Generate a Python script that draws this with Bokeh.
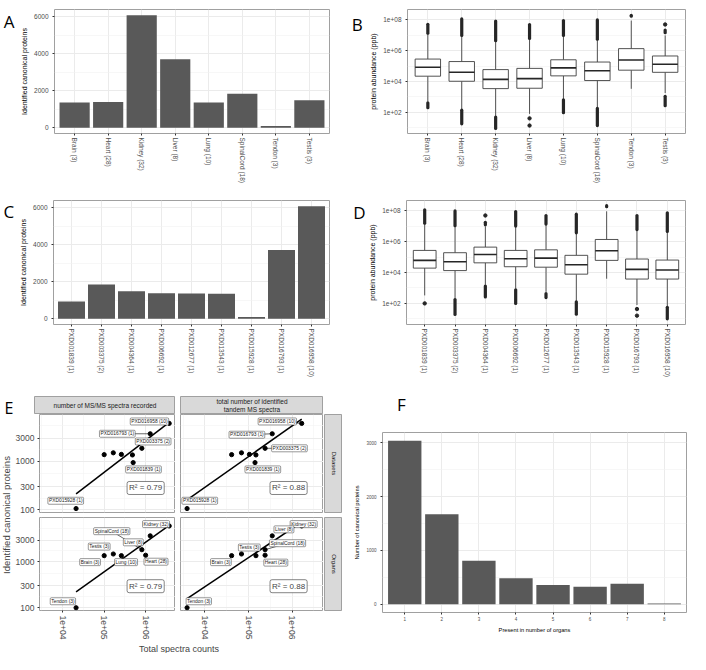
import math
import numpy as np
from bokeh.plotting import figure
from bokeh.models import Range1d, FixedTicker, Label
from bokeh.layouts import row, column
from bokeh.embed import file_html
from bokeh.resources import INLINE
from bokeh.core.properties import value

# ---------------- data ----------------
organs = ["Brain (3)", "Heart (28)", "Kidney (32)", "Liver (8)", "Lung (10)",
          "SpinalCord (18)", "Tendon (3)", "Testis (3)"]
organ_proteins = [1370, 1400, 6100, 3710, 1370, 1850, 100, 1490]

datasets = ["PXD001839 (1)", "PXD003375 (2)", "PXD004364 (1)", "PXD006692 (1)",
            "PXD012677 (1)", "PXD013543 (1)", "PXD015928 (1)", "PXD016793 (1)",
            "PXD016958 (10)"]
dataset_proteins = [940, 1860, 1500, 1390, 1375, 1355, 105, 3720, 6100]

# panel B: protein abundance (ppb) per organ
organ_q1 = [2.24e4, 1.05e4, 3.5e3, 3.7e3, 2.35e4, 1.17e4, 5.5e4, 4.0e4]
organ_median = [8.5e4, 4.0e4, 1.4e4, 1.55e4, 7.8e4, 5.0e4, 2.5e5, 1.35e5]
organ_q3 = [2.9e5, 2.0e5, 6.0e4, 7.2e4, 2.6e5, 1.86e5, 1.38e6, 4.6e5]
organ_whisk_lo = [500, 160, 56, 80, 710, 200, 3.4e3, 1.8e3]
organ_whisk_hi = [1.26e7, 8.9e6, 4.2e6, 5.6e6, 9.5e6, 5.4e6, 9.1e7, 1.0e7]
organ_out_hi = [(1.4e7, 5.2e7), (1.0e7, 1.17e8), (4.5e6, 8.5e7), (6.3e6, 5.0e7),
                (1.0e7, 9.1e7), (5.6e6, 1.0e8), (1.75e8, 2.0e8), (1.5e7, 2.2e7)]
organ_out_lo = [(200, 420), (18, 140), (9, 50), None, (95, 660), (14, 180), None, (270, 1100)]
organ_out_pts = [[], [], [], [41, 14], [], [], [], [5.1e7]]

# panel D: protein abundance (ppb) per dataset
ds_q1 = [1.95e4, 1.35e4, 4.3e4, 2.4e4, 2.24e4, 7.9e3, 6.2e4, 3.8e3, 3.8e3]
ds_median = [6.2e4, 5.1e4, 1.48e5, 7.9e4, 8.7e4, 3.2e4, 2.6e5, 1.62e4, 1.48e4]
ds_q3 = [2.75e5, 1.95e5, 4.5e5, 2.75e5, 3.0e5, 1.32e5, 1.41e6, 7.6e4, 6.5e4]
ds_whisk_lo = [330, 200, 1600, 890, 560, 141, 4000, 79, 60]
ds_whisk_hi = [1.6e7, 1.0e7, 1.0e7, 1.0e7, 1.26e7, 3.55e6, 9.5e7, 5.6e6, 4.5e6]
ds_out_hi = [(1.62e7, 1.2e8), (1.1e7, 1.0e8), (1.26e7, 1.86e7), (1.05e7, 9.1e7),
             (1.41e7, 5.1e7), (3.8e6, 6.2e7), (1.9e8, 2.2e8), (6.2e6, 5.1e7), (4.7e6, 7.6e7)]
ds_out_lo = [None, (19, 178), (263, 1350), (100, 760), (240, 430), (20, 126), None, None, (10, 56)]
ds_out_pts = [[100], [], [5.1e7], [], [], [], [], [43, 16], []]

# panel E: spectra counts
ds_spectra_recorded = [5.0e5, 8.1e5, 1.66e5, 2.6e5, 1.0e5, 4.8e5, 2.1e4, 1.29e6, 3.7e6]
ds_spectra_identified = [1.41e5, 2.4e5, 6.9e4, 1.05e5, 4.1e4, 1.48e5, 3.9e3, 3.5e5, 1.66e6]
organ_spectra_recorded = [1.0e5, 1.0e6, 3.7e6, 1.29e6, 2.6e5, 8.1e5, 2.1e4, 1.66e5]
organ_spectra_identified = [4.1e4, 2.4e5, 1.66e6, 3.5e5, 1.48e5, 2.4e5, 3.9e3, 6.9e4]
facet_cols = ["number of MS/MS spectra recorded", "total number of identified\ntandem MS spectra"]
facet_rows = ["Datasets", "Organs"]
r2_values = [["0.79", "0.88"], ["0.79", "0.88"]]
e_yticks = [100, 300, 1000, 3000]
e_xticks = [1e4, 1e5, 1e6]

# panel F
organs_present = [1, 2, 3, 4, 5, 6, 7, 8]
f_proteins = [3040, 1675, 810, 485, 360, 325, 380, 15]

# ---------------- layout / style ----------------
S = 0.975
def s(v):
    return int(round(v * S))

FONT = "Liberation Sans"
LFONT = "Open Sans"
FRAME = "#a0a0a0"
BAR = "#595959"
BOX = "#404040"
TICKC = "#4d4d4d"

W_L = s(350)
W_R = s(706) - W_L
H1, H2, H3 = s(195), s(200), s(275)


def mkfig(w, h, lb, rb, tb, bb, xr, yr, xt="linear", yt="linear"):
    p = figure(width=w, height=h, x_range=xr, y_range=yr, x_axis_type=xt, y_axis_type=yt,
               output_backend="svg", toolbar_location=None,
               min_border=0, min_border_left=lb, min_border_right=rb,
               min_border_top=tb, min_border_bottom=bb)
    p.outline_line_color = FRAME
    p.outline_line_width = 1
    p.background_fill_color = "white"
    p.border_fill_color = "white"
    for ax in p.axis:
        ax.axis_line_color = None
        ax.major_tick_line_color = "#333333"
        ax.major_tick_out = 2
        ax.major_tick_in = 0
        ax.minor_tick_line_color = None
        ax.major_label_text_color = TICKC
        ax.major_label_text_font = FONT
        ax.axis_label_text_font = FONT
        ax.axis_label_text_font_style = "normal"
        ax.axis_label_text_color = "black"
        ax.major_label_standoff = 2
        ax.axis_label_standoff = 3
    p.grid.grid_line_color = "#ebebeb"
    p.grid.grid_line_width = 1
    p.grid.minor_grid_line_color = "#f2f2f2"
    p.grid.minor_grid_line_width = 0.6
    return p


def blank(w, h):
    p = figure(width=w, height=h, x_range=Range1d(0, w), y_range=Range1d(0, h),
               output_backend="svg", toolbar_location=None,
               x_axis_location=None, y_axis_location=None, min_border=0)
    p.outline_line_color = None
    p.grid.visible = False
    p.background_fill_color = "white"
    p.border_fill_color = "white"
    return p


def letter_fig(w, h, txt, x_ref, base_ref, size="17px"):
    p = blank(w, h)
    p.add_layout(Label(x=x_ref * S, y=h - base_ref * S, text=txt,
                       text_font=LFONT, text_font_size=size,
                       text_align="left", text_baseline="alphabetic", text_color="black"))
    return p


def bar_panel(w, h, lb, rb, tb, fh, labels, vals, yr, yticks, yminor, lab_size,
              tick_size, title_size, ytitle, xtitle=None, vertical=True):
    bb = h - tb - fh
    n = len(vals)
    xs = list(range(1, n + 1))
    p = mkfig(w, h, lb, rb, tb, bb, Range1d(0.4, n + 0.6), Range1d(*yr))
    p.vbar(x=xs, top=vals, bottom=0, width=0.9, fill_color=BAR, line_color=None)
    p.xaxis.ticker = FixedTicker(ticks=xs)
    p.xgrid.ticker = FixedTicker(ticks=xs)
    p.xaxis.major_label_overrides = {x: str(l) for x, l in zip(xs, labels)}
    if vertical:
        p.xaxis.major_label_orientation = "vertical"
    p.xaxis.major_label_text_font_size = lab_size
    yt = FixedTicker(ticks=yticks, minor_ticks=yminor)
    p.yaxis.ticker = yt
    p.ygrid.ticker = yt
    p.yaxis.major_label_text_font_size = tick_size
    p.yaxis.axis_label = ytitle
    p.yaxis.axis_label_text_font_size = title_size
    if xtitle:
        p.xaxis.axis_label = xtitle
        p.xaxis.axis_label_text_font_size = title_size
    return p


LOG_LABELS = {1e2: "1e+02", 1e4: "1e+04", 1e6: "1e+06", 1e8: "1e+08"}
BOX_Y = (10 ** 0.63, 10 ** 8.68)


def box_panel(w, h, lb, rb, tb, fh, labels, q1, med, q3, wlo, whi, out_hi, out_lo, out_pts):
    bb = h - tb - fh
    n = len(q1)
    xs = list(range(1, n + 1))
    p = mkfig(w, h, lb, rb, tb, bb, Range1d(0.4, n + 0.6), Range1d(*BOX_Y), yt="log")
    p.segment(x0=xs, y0=wlo, x1=xs, y1=q1, line_color=BOX, line_width=0.9)
    p.segment(x0=xs, y0=q3, x1=xs, y1=whi, line_color=BOX, line_width=0.9)
    cx, c0, c1 = [], [], []
    for x, rng in list(zip(xs, out_hi)) + list(zip(xs, out_lo)):
        if rng:
            cx.append(x); c0.append(rng[0]); c1.append(rng[1])
    p.segment(x0=cx, y0=c0, x1=cx, y1=c1, line_color="#262626", line_width=3.2, line_cap="round")
    px, py = [], []
    for x, pts in zip(xs, out_pts):
        for v in pts:
            px.append(x); py.append(v)
    p.scatter(px, py, size=3.4, color="#262626")
    p.vbar(x=xs, width=0.75, bottom=q1, top=q3, fill_color="white", line_color=BOX, line_width=0.9)
    p.segment(x0=[x - 0.375 for x in xs], y0=med, x1=[x + 0.375 for x in xs], y1=med,
              line_color="#262626", line_width=1.6)
    p.xaxis.ticker = FixedTicker(ticks=xs)
    p.xgrid.ticker = FixedTicker(ticks=xs)
    p.xaxis.major_label_overrides = {x: str(l) for x, l in zip(xs, labels)}
    p.xaxis.major_label_orientation = "vertical"
    p.xaxis.major_label_text_font_size = "6.5px"
    yt = FixedTicker(ticks=[1e2, 1e4, 1e6, 1e8], minor_ticks=[1e1, 1e3, 1e5, 1e7])
    p.yaxis.ticker = yt
    p.ygrid.ticker = yt
    p.yaxis.major_label_overrides = LOG_LABELS
    p.yaxis.major_label_text_font_size = "6.5px"
    p.yaxis.axis_label = "protein abundance (ppb)"
    p.yaxis.axis_label_text_font_size = "7px"
    return p


# ---- A ----
A_w = s(18)
A_lb, A_rb, A_tb, A_fh = s(49) - A_w, s(12), s(9), s(131)
pA = bar_panel(W_L - A_w, H1, A_lb, A_rb, A_tb, A_fh, organs, organ_proteins, (-305, 6405),
               [0, 2000, 4000, 6000], [1000, 3000, 5000], "6.5px", "6.5px", "7px",
               "Identified canonical proteins")
lA = letter_fig(A_w, H1, "A", 3.3, 18.5)

# ---- B ----
B_w = s(24)
B_lb, B_rb, B_tb, B_fh = s(68) - B_w, s(3), s(5), s(131)
pB = box_panel(W_R - B_w, H1, B_lb, B_rb, B_tb, B_fh, organs, organ_q1, organ_median, organ_q3,
               organ_whisk_lo, organ_whisk_hi, organ_out_hi, organ_out_lo, organ_out_pts)
lB = letter_fig(B_w, H1, "B", 10.5, 24)

# ---- C ----
C_w = s(17)
C_lb, C_rb, C_tb, C_fh = s(49) - C_w, s(12), s(9), s(128)
pC = bar_panel(W_L - C_w, H2, C_lb, C_rb, C_tb, C_fh, datasets, dataset_proteins, (-305, 6405),
               [0, 2000, 4000, 6000], [1000, 3000, 5000], "6.5px", "6.5px", "7px",
               "Identified canonical proteins")
lC = letter_fig(C_w, H2, "C", 3, 18.5)

# ---- D ----
D_w = s(26)
D_lb, D_rb, D_tb, D_fh = s(59) - D_w, s(3), s(10), s(128)
pD = box_panel(W_R - D_w, H2, D_lb, D_rb, D_tb, D_fh, datasets, ds_q1, ds_median, ds_q3,
               ds_whisk_lo, ds_whisk_hi, ds_out_hi, ds_out_lo, ds_out_pts)
lD = letter_fig(D_w, H2, "D", 12, 20)

# ---- E ----
lw, c1_lb, c1_fw, c2_lb, c2_fw, sr_lb, sr_fw = s(12), s(23), s(145), s(5), s(147), 1, s(18)
top_h, strip_h = s(11), s(18)
r1_fh, r1_bb, r2_fh, r2_bb = s(100), s(5), s(100), s(28)
xt_h = H3 - (top_h + strip_h + r1_fh + r1_bb + r2_fh + r2_bb)
E_W = lw + c1_lb + c1_fw + c2_lb + c2_fw + sr_lb + sr_fw
E_X = (10 ** 3.44, 10 ** 6.72)
E_Y = (87, 9330)
STRIP_FILL = "#d9d9d9"
STRIP_LINE = "#a0a0a0"

# label offsets (pixels, right / down) of the repelled labels in each facet
lab_ds_rec = {"PXD016958 (10)": (-21, -2), "PXD016793 (1)": (-35, 0), "PXD003375 (2)": (12, -7),
              "PXD001839 (1)": (11, 7), "PXD015928 (1)": (-11, -8)}
lab_ds_id = {"PXD016958 (10)": (-25, -2), "PXD016793 (1)": (-26, 1), "PXD003375 (2)": (25, 0),
             "PXD001839 (1)": (8, 7), "PXD015928 (1)": (13, -8)}
lab_org_rec = {"Kidney (32)": (-14, -2), "SpinalCord (18)": (-32, -20), "Liver (8)": (-18, 7),
               "Testis (3)": (-15, -8), "Brain (3)": (-15, 7), "Lung (10)": (5, 7),
               "Heart (28)": (11, 7), "Tendon (3)": (-14, -7)}
lab_org_id = {"Kidney (32)": (2, -2), "Liver (8)": (12, -7), "SpinalCord (18)": (23, -7),
              "Testis (3)": (8, -7), "Brain (3)": (-11, 7), "Heart (28)": (11, 8),
              "Tendon (3)": (12, -7)}
r2_pos_x = [1.0e6, 8.3e5]
r2_pos_y = [280, 295]


def e_panel(w, h, lb, bb, fw, fh, xvals, yvals, names, offsets, r2txt, r2x, r2y, show_x, show_y):
    p = mkfig(w, h, lb, 0, 0, bb, Range1d(*E_X), Range1d(*E_Y), "log", "log")
    tx = FixedTicker(ticks=e_xticks, minor_ticks=[10 ** 3.5, 10 ** 4.5, 10 ** 5.5, 10 ** 6.5])
    ty = FixedTicker(ticks=e_yticks, minor_ticks=[173, 548, 1732, 5477])
    p.xaxis.ticker = tx
    p.yaxis.ticker = ty
    p.xgrid.ticker = tx
    p.ygrid.ticker = ty
    p.xaxis.major_label_overrides = {1e4: "1e+04", 1e5: "1e+05", 1e6: "1e+06"}
    p.yaxis.major_label_overrides = {float(v): str(v) for v in e_yticks}
    p.xaxis.major_label_orientation = "vertical"
    p.xaxis.major_label_text_font_size = "8.5px"
    p.yaxis.major_label_text_font_size = "8.5px"
    p.xaxis.major_label_standoff = 1
    p.yaxis.major_label_standoff = 1
    p.xaxis.visible = show_x
    p.yaxis.visible = show_y
    p.grid.minor_grid_line_color = "#f4f4f4"
    # regression on log-log scale
    lx = np.log10(xvals)
    ly = np.log10(yvals)
    a, b = np.polyfit(lx, ly, 1)
    x_ends = [min(xvals), max(xvals)]
    y_ends = [10 ** (a * math.log10(v) + b) for v in x_ends]
    p.line(x_ends, y_ends, line_color="black", line_width=1.5)
    p.scatter(xvals, yvals, size=4.2, color="black")
    ppdx = fw / (math.log10(E_X[1]) - math.log10(E_X[0]))
    ppdy = fh / (math.log10(E_Y[1]) - math.log10(E_Y[0]))
    lxs, lys, ltxt, sx0, sy0, sx1, sy1 = [], [], [], [], [], [], []
    for name, (dx, dy) in offsets.items():
        i = names.index(name)
        x0, y0 = xvals[i], yvals[i]
        x1 = x0 * 10 ** (dx * S / ppdx)
        y1 = y0 * 10 ** (-dy * S / ppdy)
        lxs.append(x1); lys.append(y1); ltxt.append(name)
        if math.hypot(dx, dy) > 20:
            sx0.append(x0); sy0.append(y0); sx1.append(x1); sy1.append(y1)
    p.segment(x0=sx0, y0=sy0, x1=sx1, y1=sy1, line_color="black", line_width=0.6)
    p.text(x=lxs, y=lys, text=ltxt, text_font=value(FONT), text_font_size="4.9px",
           text_align="center", text_baseline="middle", text_color="#1a1a1a",
           background_fill_color="white", border_line_color="#333333", border_line_width=0.5,
           padding=1, border_radius=1)
    p.add_layout(Label(x=r2x, y=r2y, text="R\u00b2 = " + r2txt, text_font=FONT,
                       text_font_size="8px", text_align="center", text_baseline="middle",
                       background_fill_color="white", border_line_color="#333333",
                       border_line_width=0.6, padding=2, border_radius=2))
    return p


def strip(w, h, lb, rb, tb, bb, txt, angle=0.0, size="6.5px"):
    p = figure(width=w, height=h, x_range=Range1d(0, 1), y_range=Range1d(0, 1),
               output_backend="svg", toolbar_location=None,
               x_axis_location=None, y_axis_location=None, min_border=0,
               min_border_left=lb, min_border_right=rb, min_border_top=tb, min_border_bottom=bb)
    p.grid.visible = False
    p.background_fill_color = STRIP_FILL
    p.border_fill_color = "white"
    p.outline_line_color = STRIP_LINE
    p.add_layout(Label(x=0.5, y=0.5, text=txt, text_font=FONT, text_font_size=size,
                       text_color="#1a1a1a", text_align="center", text_baseline="middle",
                       angle=angle))
    return p


e_fig = letter_fig(lw + c1_lb, top_h + strip_h, "E", 4, 19.5, size="16px")
st1 = strip(c1_fw, top_h + strip_h, 0, 0, top_h, 0, facet_cols[0])
st2 = strip(c2_lb + c2_fw, top_h + strip_h, c2_lb, 0, top_h, 0, facet_cols[1])

p11 = e_panel(c1_lb + c1_fw, r1_fh + r1_bb, c1_lb, r1_bb, c1_fw, r1_fh, ds_spectra_recorded,
              dataset_proteins, datasets, lab_ds_rec, r2_values[0][0], r2_pos_x[0], r2_pos_y[0],
              False, True)
p12 = e_panel(c2_lb + c2_fw, r1_fh + r1_bb, c2_lb, r1_bb, c2_fw, r1_fh, ds_spectra_identified,
              dataset_proteins, datasets, lab_ds_id, r2_values[0][1], r2_pos_x[1], r2_pos_y[0],
              False, False)
sr1 = strip(sr_lb + sr_fw, r1_fh + r1_bb, sr_lb, 0, 0, r1_bb, facet_rows[0],
            angle=-math.pi / 2, size="6px")
p21 = e_panel(c1_lb + c1_fw, r2_fh + r2_bb, c1_lb, r2_bb, c1_fw, r2_fh, organ_spectra_recorded,
              organ_proteins, organs, lab_org_rec, r2_values[1][0], r2_pos_x[0], r2_pos_y[1],
              True, True)
p22 = e_panel(c2_lb + c2_fw, r2_fh + r2_bb, c2_lb, r2_bb, c2_fw, r2_fh, organ_spectra_identified,
              organ_proteins, organs, lab_org_id, r2_values[1][1], r2_pos_x[1], r2_pos_y[1],
              True, False)
sr2 = strip(sr_lb + sr_fw, r2_fh + r2_bb, sr_lb, 0, 0, r2_bb, facet_rows[1],
            angle=-math.pi / 2, size="6px")

xt_w = c1_lb + c1_fw + c2_lb + c2_fw + sr_lb + sr_fw
xt_fig = blank(xt_w, xt_h)
xt_fig.add_layout(Label(x=c1_lb + (c1_fw + c2_lb + c2_fw) / 2, y=xt_h / 2,
                        text="Total spectra counts", text_font=FONT,
                        text_font_size="9px", text_align="center", text_baseline="middle"))
title_h = r1_fh + r1_bb + r2_fh + r2_bb + xt_h
title_fig = blank(lw, title_h)
title_fig.add_layout(Label(x=lw / 2, y=title_h - (r1_fh + r1_bb + r2_fh) / 2,
                           text="Identified canonical proteins", text_font=FONT,
                           text_font_size="9.5px", text_align="center", text_baseline="middle",
                           angle=math.pi / 2))

e_block = column(row(e_fig, st1, st2),
                 row(title_fig, column(row(p11, p12, sr1), row(p21, p22, sr2), xt_fig)))

# ---- F ----
W_F = W_L + W_R - E_W
F_lb, F_rb, F_tb, F_fh = s(41), s(2), s(48), s(185)
pF = bar_panel(W_F, H3 - F_tb, F_lb, F_rb, 0, F_fh, [str(v) for v in organs_present], f_proteins,
               (-152, 3192), [0, 1000, 2000, 3000], [500, 1500, 2500], "4.5px", "4.5px", "5.7px",
               "Number of canonical proteins", xtitle="Present in number of organs", vertical=False)
lF = letter_fig(W_F, F_tb, "F", 17, 19)

layout = column(row(lA, pA, lB, pB), row(lC, pC, lD, pD), row(e_block, column(lF, pF)))

open("out.html", "w").write(file_html(layout, INLINE))
